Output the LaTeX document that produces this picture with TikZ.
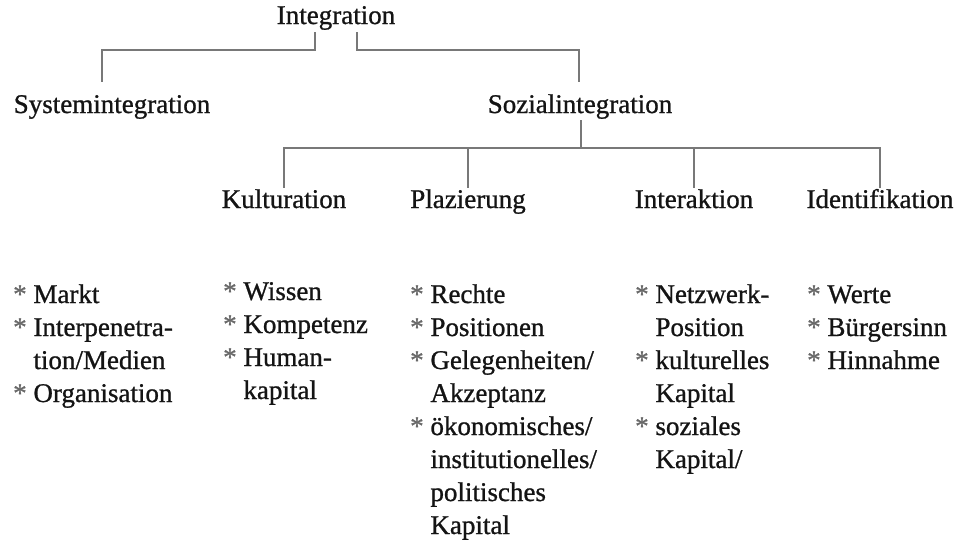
\documentclass[tikz,border=0pt]{standalone}
\usepackage{fontspec}
\setmainfont{Liberation Serif}[FakeBold=0.9]
\definecolor{linegray}{RGB}{120,120,120}
\definecolor{stargray}{RGB}{105,105,105}
\definecolor{txt}{RGB}{20,20,20}
\newcommand{\st}{\textcolor{stargray}{*}}
\begin{document}
\begin{tikzpicture}[x=1pt,y=-1pt,
  lbl/.style={inner sep=0pt, anchor=base, text height=18pt, text depth=6pt, text=txt, font=\fontsize{27}{33}\selectfont},
  lst/.style={inner sep=0pt, anchor=base west, text=txt, font=\fontsize{27}{33}\selectfont},
  conn/.style={draw=linegray, line width=1.7pt}]
\useasboundingbox (0,0) rectangle (957,539);
% headings
\node[lbl] (integ) at (336,24) {Integration};
\node[lbl] (sys) at (112,113) {Systemintegration};
\node[lbl] (soz) at (580,113) {Sozialintegration};
\node[lbl] (kul) at (284,208) {Kulturation};
\node[lbl] (pla) at (468,208) {Plazierung};
\node[lbl] (int) at (694,208) {Interaktion};
\node[lbl] (ide) at (880,208) {Identifikation};
% connectors
\draw[conn] ([xshift=-21pt,yshift=-2pt]integ.south) -- ++(0,18) -| ([xshift=-10pt,yshift=13pt]sys.north);
\draw[conn] ([xshift=21pt,yshift=-2pt]integ.south) -- ++(0,18) -| ([xshift=-1pt,yshift=13pt]soz.north);
\draw[conn] ([xshift=1pt,yshift=-1pt]soz.south) -- ++(0,28) coordinate (hub);
\draw[conn] ([yshift=2pt]kul.north) |- (hub) -| ([yshift=2pt]ide.north);
\draw[conn] ([yshift=2pt]pla.north) -- (pla.north |- hub);
\draw[conn] ([yshift=2pt]int.north) -- (int.north |- hub);
% lists
\node[lst] (l1) at (13,303) {\begin{tabular}[t]{@{}l@{\ }l@{}}\st & Markt\\ \st & Interpenetra-\\ & tion/Medien\\ \st & Organisation\end{tabular}};
\node[lst] (l2) at (223,300) {\begin{tabular}[t]{@{}l@{\ }l@{}}\st & Wissen\\ \st & Kompetenz\\ \st & Human-\\ & kapital\end{tabular}};
\node[lst] (l3) at (410,303) {\begin{tabular}[t]{@{}l@{\ }l@{}}\st & Rechte\\ \st & Positionen\\ \st & Gelegenheiten/\\ & Akzeptanz\\ \st & ökonomisches/\\ & institutionelles/\\ & politisches\\ & Kapital\end{tabular}};
\node[lst] (l4) at (635,303) {\begin{tabular}[t]{@{}l@{\ }l@{}}\st & Netzwerk-\\ & Position\\ \st & kulturelles\\ & Kapital\\ \st & soziales\\ & Kapital/\end{tabular}};
\node[lst] (l5) at (807,303) {\begin{tabular}[t]{@{}l@{\ }l@{}}\st & Werte\\ \st & Bürgersinn\\ \st & Hinnahme\end{tabular}};
\end{tikzpicture}
\end{document}
